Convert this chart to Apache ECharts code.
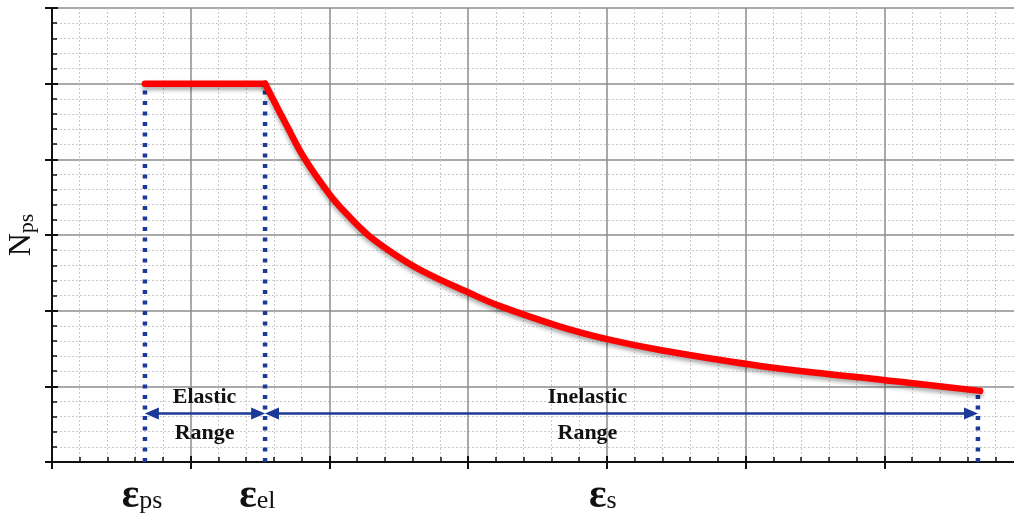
<!DOCTYPE html>
<html><head><meta charset="utf-8">
<script src="https://cdn.jsdelivr.net/npm/echarts@6/dist/echarts.min.js"></script>
<style>html,body{margin:0;padding:0;background:#fff}#c{width:1014px;height:516px}</style>
</head><body><div id="c"></div><script>
// ---- data ----
const plateauX = [0.67, 1.536];
const plateauY = [5, 5];
const curveX = [1.536, 1.694, 1.824, 2.004, 2.134, 2.278, 2.473, 2.675, 3.014, 3.23, 3.663, 4.009, 4.384, 5.105, 6.114, 6.691];
const curveY = [5.0, 4.44, 4.0, 3.53, 3.26, 3.0, 2.74, 2.52, 2.23, 2.06, 1.79, 1.62, 1.48, 1.27, 1.06, 0.94];
const markerX = [0.67, 1.536, 6.675];
const markerTop = [5, 5, 0.94];
const rangeFrom = [0.67, 1.536];
const rangeTo = [1.536, 6.675];
const rangeArrowY = 0.64;
const rangeTop = ['Elastic', 'Inelastic'];
const rangeBottom = ['Range', 'Range'];
const rangeLabelX = [1.10, 3.86];
const rangeLabelTopY = 0.86;
const rangeLabelBottomY = 0.38;
const strainBase = ['ε', 'ε', 'ε'];
const strainSub = ['ps', 'el', 's'];
const strainLabelX = [0.65, 1.48, 3.97];
const yName = ['N', 'ps'];
const xMin = 0, xMax = 7, yMin = 0, yMax = 6, step = 1;

// ---- styles ----
const RED = '#ff0000', BLUE = '#1b3a98', SERIF = 'Liberation Serif', INK = '#111111';
const ARROW_INSET = 0.05;

const chart = echarts.init(document.getElementById('c'), null, {renderer: 'canvas'});

function mainAxis(extra) {
  return Object.assign({
    type: 'value', interval: step,
    axisLine: {show: true, onZero: false, lineStyle: {color: '#111', width: 2}},
    axisTick: {show: true, inside: true, length: 6, lineStyle: {color: '#111', width: 2}},
    minorTick: {show: true, splitNumber: 5, length: 5, lineStyle: {color: '#111', width: 1.5}},
    axisLabel: {show: false},
    splitLine: {show: true, lineStyle: {color: '#8d8d8d', width: 1.5}},
    minorSplitLine: {show: true, lineStyle: {color: '#c9c9c9', width: 1, type: [2, 2]}}
  }, extra);
}
function tickAxis(extra) {
  return Object.assign({
    type: 'value', interval: step,
    axisLine: {show: false},
    axisTick: {show: true, inside: false, length: 7, lineStyle: {color: '#111', width: 2}},
    minorTick: {show: false},
    axisLabel: {show: false},
    splitLine: {show: false}
  }, extra);
}

const series = [];
// dotted vertical markers
markerX.forEach((x, i) => {
  series.push({
    type: 'line', silent: true, symbol: 'none', z: 3,
    data: [[x, 0], [x, markerTop[i]]],
    lineStyle: {color: BLUE, width: 4.5, type: [4, 6.5], cap: 'butt'}
  });
});
// range arrows
series.push({
  type: 'line', silent: true, data: [], z: 4,
  markLine: {
    silent: true, symbol: ['triangle', 'triangle'], symbolSize: [12, 14],
    label: {show: false},
    lineStyle: {color: BLUE, width: 2.5, type: 'solid'},
    data: rangeFrom.map((f, i) => [
      {coord: [f + ARROW_INSET, rangeArrowY]},
      {coord: [rangeTo[i] - ARROW_INSET, rangeArrowY]}
    ])
  }
});
const noBorder = {textBorderWidth: 0, textBorderColor: 'transparent', opacity: 1};
// range texts
series.push({
  type: 'scatter', silent: true, symbolSize: 0, z: 5,
  itemStyle: {opacity: 1},
  data: rangeTop.map((t, i) => ({name: t, value: [rangeLabelX[i], rangeLabelTopY]}))
    .concat(rangeBottom.map((t, i) => ({name: t, value: [rangeLabelX[i], rangeLabelBottomY]}))),
  label: Object.assign({show: true, position: 'inside', formatter: p => p.name,
    fontFamily: SERIF, fontWeight: 'bold', fontSize: 22, color: INK}, noBorder)
});
// strain labels under axis
series.push({
  type: 'scatter', silent: true, symbolSize: 0, z: 5, clip: false,
  itemStyle: {opacity: 1},
  data: strainLabelX.map((x, i) => ({name: strainBase[i] + '|' + strainSub[i], value: [x, 0]})),
  label: Object.assign({show: true, position: 'inside', offset: [0, 34],
    formatter: p => { const a = p.name.split('|'); return '{e|' + a[0] + '}{s|' + a[1] + '}'; },
    rich: {
      e: {fontFamily: SERIF, fontSize: 41, fontWeight: 'bold', color: INK, verticalAlign: 'bottom'},
      s: {fontFamily: SERIF, fontSize: 26, color: INK, verticalAlign: 'bottom', padding: [0, 0, 2, 0]}
    }}, noBorder)
});
// red curve
const redStyle = {color: RED, width: 6.5, cap: 'round', join: 'round',
  shadowColor: 'rgba(0,0,0,0.35)', shadowBlur: 4, shadowOffsetY: 3};
series.push({
  type: 'line', silent: true, symbol: 'none', z: 6,
  data: plateauX.map((x, i) => [x, plateauY[i]]),
  lineStyle: redStyle
});
series.push({
  type: 'line', silent: true, symbol: 'none', z: 6, smooth: 0.4,
  data: curveX.map((x, i) => [x, curveY[i]]),
  lineStyle: redStyle
});

chart.setOption({
  animation: false,
  backgroundColor: '#fff',
  grid: {left: 52, top: 8, right: -9, bottom: 54, containLabel: false, outerBoundsMode: 'none'},
  xAxis: [
    mainAxis({min: xMin, max: xMax, position: 'bottom'}),
    tickAxis({min: xMin, max: xMax, position: 'bottom', offset: 0})
  ],
  yAxis: [
    mainAxis({min: yMin, max: yMax, position: 'left',
      name: '{n|' + yName[0] + '}{s|' + yName[1] + '}',
      nameLocation: 'middle', nameRotate: 90, nameGap: 14,
      nameTextStyle: {rich: {
        n: {fontFamily: SERIF, fontSize: 32, color: INK, verticalAlign: 'bottom'},
        s: {fontFamily: SERIF, fontSize: 22, color: INK, verticalAlign: 'bottom'}
      }}}),
    tickAxis({min: yMin, max: yMax, position: 'left', offset: 0})
  ],
  series: series
});
</script></body></html>
